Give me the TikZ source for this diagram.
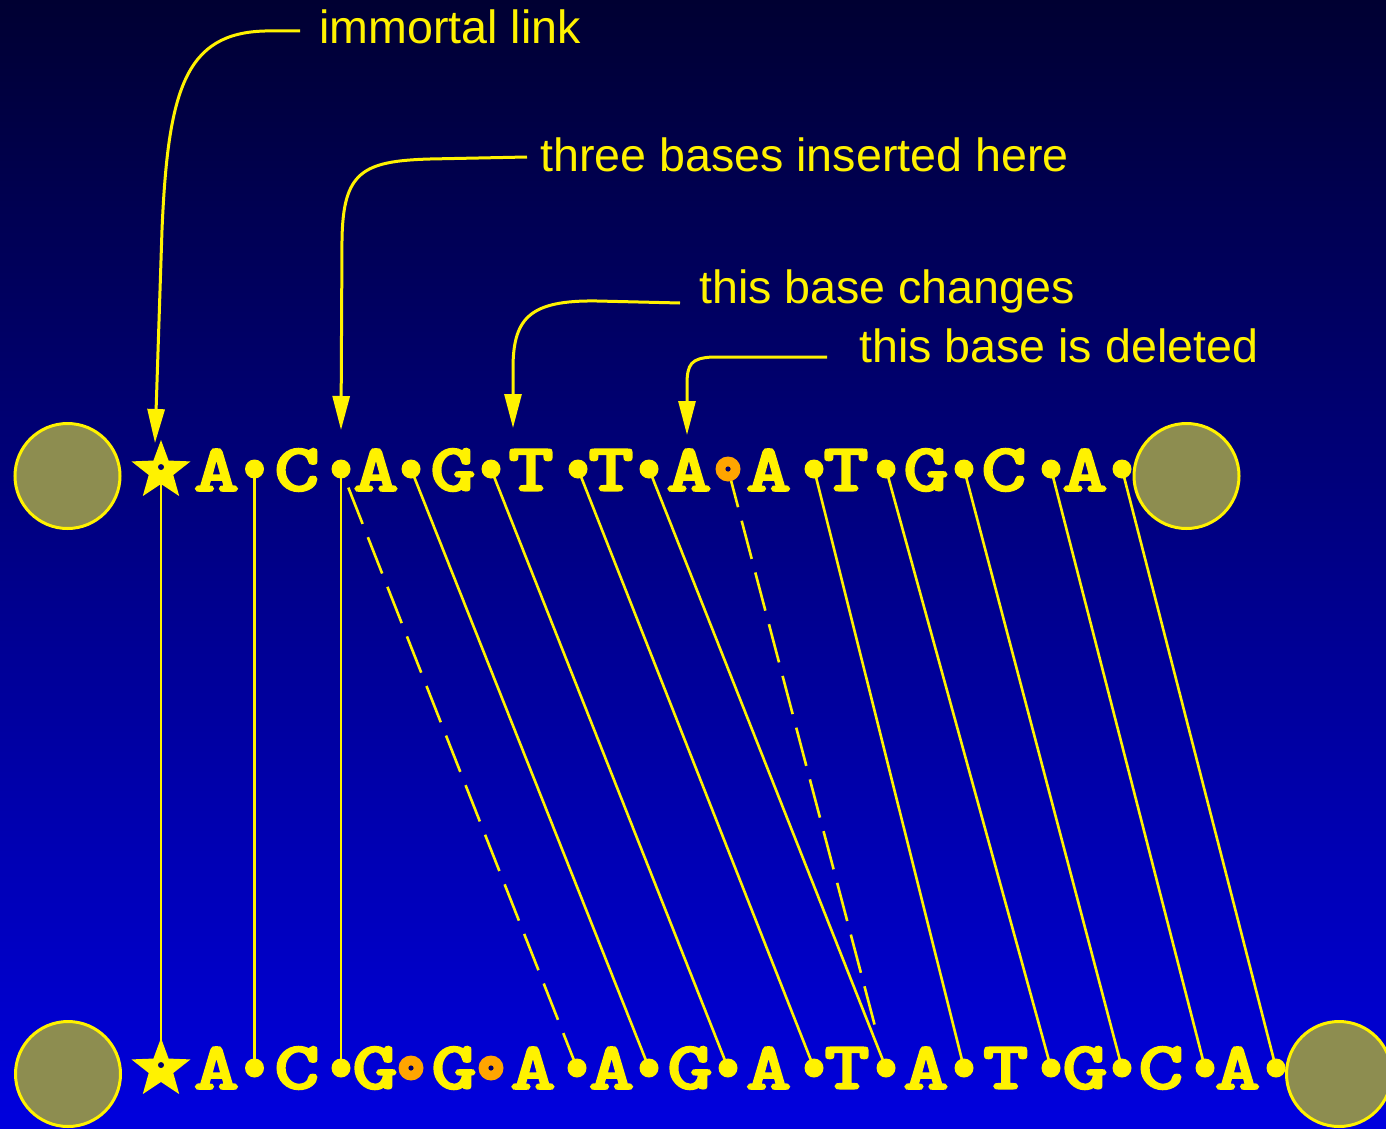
\documentclass[tikz,border=0pt]{standalone}
\usepackage{fontspec}
\usepackage{graphicx}
\usetikzlibrary{shapes.geometric,arrows.meta}
\newfontfamily\labfont{Liberation Sans}
\newfontface\dnafont{lmmonolt10-bold.otf}[FakeBold=2.2]
\definecolor{bgtop}{RGB}{0,0,50}
\definecolor{bgbot}{RGB}{0,0,222}
\definecolor{olivefill}{RGB}{141,141,80}
\definecolor{dnaorange}{RGB}{255,165,0}
\definecolor{navydot}{RGB}{0,0,110}
\pgfdeclarelayer{bglayer}
\pgfdeclarelayer{linklayer}
\pgfsetlayers{bglayer,linklayer,main}
\newcommand{\bsx}[1]{\scalebox{1.28}[1]{#1}}
\tikzset{
  baseletter/.style={text=yellow, inner sep=0pt, font=\dnafont\fontsize{68}{68}\selectfont},
  ydot/.style={circle, fill=yellow, inner sep=0pt, minimum size=19pt},
  odot/.style={circle, fill=dnaorange, inner sep=0pt, minimum size=25pt,
    path picture={\fill[navydot] (path picture bounding box.center) circle (2.6pt);}},
  ystar/.style={star, star points=5, star point ratio=2.4, fill=yellow, inner sep=0pt, minimum size=62pt,
    path picture={\fill[navydot] ([yshift=1pt]path picture bounding box.center) circle (3pt);}},
  endball/.style={circle, draw=yellow, line width=3pt, fill=olivefill, minimum size=105pt, inner sep=0pt},
  lab/.style={text=yellow, inner sep=0pt, anchor=base west, font=\labfont\fontsize{46.6}{46.6}\selectfont},
  link/.style={draw=yellow, line width=2.6pt},
  callout/.style={draw=yellow, line width=3pt, -{Triangle[length=34pt,width=17pt]}}
}
\begin{document}
\begin{tikzpicture}[x=1pt,y=-1pt]
\useasboundingbox (0,0) rectangle (1386,1129);
\begin{pgfonlayer}{bglayer}
\shade[top color=bgtop, bottom color=bgbot] (0,0) rectangle (1386,1129);
\end{pgfonlayer}

% end balls
\node[endball] (cl1) at (67.5,476) {};
\node[endball] (cr1) at (1186.5,476) {};
\node[endball] (cl2) at (68,1074) {};
\node[endball] (cr2) at (1339,1074) {};

% stars
\node[ystar] (ts) at (161,471) {};
\node[ystar] (bs) at (161,1069) {};

% top letters
\foreach \x/\l [count=\i] in {216.5/A,297/C,376/A,453/G,531/T,611/T,689/A,768.6/A,846/T,926/G,1004/C,1085/A}
  \node[baseletter] (tl\i) at (\x,470) {\bsx{\l}};
% bottom letters
\foreach \x/\l [count=\i] in {216.5/A,297/C,375/G,454/G,533/A,611.6/A,690/G,768.6/A,847/T,926/A,1005.7/T,1085/G,1161/C,1237.6/A}
  \node[baseletter] (bl\i) at (\x,1068) {\bsx{\l}};

% top dots
\foreach \x [count=\i] in {254.5,341,411,491,578,649}
  \node[ydot] (td\i) at (\x,469) {};
\node[odot] (tdo) at (728,469) {};
\foreach \x [count=\i from 7] in {814,886,964,1051,1122}
  \node[ydot] (td\i) at (\x,469) {};

% bottom dots
\node[ydot] (bd1) at (254.5,1068) {};
\node[ydot] (bd2) at (341,1068) {};
\node[odot] (bo1) at (411,1068) {};
\node[odot] (bo2) at (491,1068) {};
\foreach \x [count=\i from 3] in {577,649,728,814,886,964,1051,1122,1205,1276}
  \node[ydot] (bd\i) at (\x,1068) {};

% links
\begin{pgfonlayer}{linklayer}
\draw[link] (ts.center) -- (bs.center);
\draw[link] (td1.center) -- (bd1.center);
\draw[link] (td2.center) -- (bd2.center);
\draw[link, dash pattern=on 39pt off 14.3pt, dash phase=33.3pt] (td2.center) -- (bd3.center);
\draw[link] (td3.center) -- (bd4.center);
\draw[link] (td4.center) -- (bd5.center);
\draw[link] (td5.center) -- (bd6.center);
\draw[link] (td6.center) -- (bd7.center);
\draw[link, dash pattern=on 39.5pt off 14pt, shorten >=40pt] (tdo.center) -- (bd7.center);
\draw[link] (td7.center) -- (bd8.center);
\draw[link] (td8.center) -- (bd9.center);
\draw[link] (td9.center) -- (bd10.center);
\draw[link] (td10.center) -- (bd11.center);
\draw[link] (td11.center) -- (bd12.center);
\end{pgfonlayer}

% labels
\node[lab] (L1) at (319,43.3) {immortal link};
\node[lab] (L2) at (540,171.5) {three bases inserted here};
\node[lab] (L3) at (699,303.3) {this base changes};
\node[lab] (L4) at (859,362) {this base is deleted};

% callout arrows
\coordinate (a1s) at (300,31);
\coordinate (a1e) at (155,443);
\coordinate (a2s) at (527,157);
\coordinate (a2e) at (341,430);
\coordinate (a3s) at (680,303);
\coordinate (a3e) at (513,428);
\coordinate (a4s) at (827,357);
\coordinate (a4e) at (687,435);
\draw[callout] (a1s) -- (265,31) .. controls (185,33) and (168,90) .. (162,230) -- (a1e);
\draw[callout] (a2s) -- (430,159) .. controls (362,161) and (343,172) .. (342,240) -- (a2e);
\draw[callout] (a3s) -- (597,301) .. controls (530,300) and (514,318) .. (513,365) -- (a3e);
\draw[callout] (a4s) -- (713,357) .. controls (691,358) and (687,364) .. (687,385) -- (a4e);
\end{tikzpicture}
\end{document}
